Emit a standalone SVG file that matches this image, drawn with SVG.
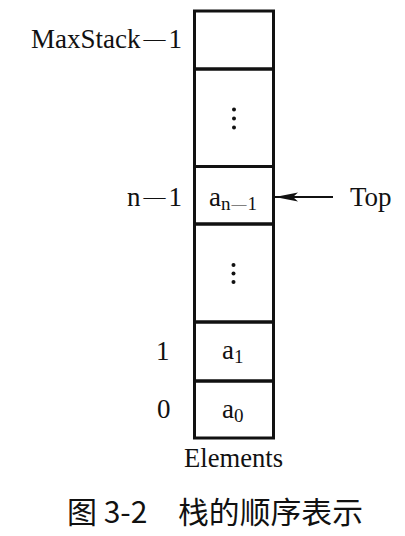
<svg xmlns="http://www.w3.org/2000/svg" width="405" height="536" viewBox="0 0 405 536">
<style>
.cell{fill:none;stroke:#111;stroke-width:3}
.t{font-family:"Liberation Serif","Times New Roman",serif;font-size:27px;fill:#111}
.sub{font-family:"Liberation Serif","Times New Roman",serif;font-size:19px;fill:#111}
.d{font-size:22px}
.sd{font-size:15px}
.cap{font-family:"Noto Sans CJK SC","Noto Sans",sans-serif;font-size:30px;fill:#111}
.dot{fill:#111}
</style>
<defs>
<marker id="ah" markerWidth="24" markerHeight="10" refX="23" refY="5" orient="auto" markerUnits="userSpaceOnUse">
<path d="M0,0.5 L23,5 L0,9.5 L5,5 Z" fill="#111"/>
</marker>
</defs>
<rect width="405" height="536" fill="#fff"/>
<g id="cell-max">
<rect class="cell" x="194.5" y="11" width="79" height="58"/>
<text class="t" x="31" y="48">MaxStack<tspan class="d" dx="3" dy="-2">—</tspan><tspan dx="3" dy="2">1</tspan></text>
</g>
<g id="cell-dots-upper">
<rect class="cell" x="194.5" y="69" width="79" height="97.5"/>
<circle class="dot" cx="234" cy="109.5" r="2"/>
<circle class="dot" cx="234" cy="118.5" r="2"/>
<circle class="dot" cx="234" cy="127.5" r="2"/>
</g>
<g id="cell-top">
<rect class="cell" x="194.5" y="166.5" width="79" height="57.5"/>
<text class="t" x="127" y="206">n<tspan class="d" dx="3" dy="-2">—</tspan><tspan dx="3" dy="2">1</tspan></text>
<text class="t" x="209" y="206">a<tspan class="sub" dy="4">n</tspan><tspan class="sd" dx="1" dy="-1">—</tspan><tspan class="sub" dx="1" dy="1">1</tspan></text>
</g>
<g id="cell-dots-lower">
<rect class="cell" x="194.5" y="224" width="79" height="98"/>
<circle class="dot" cx="233.5" cy="265" r="2"/>
<circle class="dot" cx="233.5" cy="273.5" r="2"/>
<circle class="dot" cx="233.5" cy="282" r="2"/>
</g>
<g id="cell-a1">
<rect class="cell" x="194.5" y="322" width="79" height="59"/>
<text class="t" x="156" y="360">1</text>
<text class="t" x="222" y="359">a<tspan class="sub" dy="4">1</tspan></text>
</g>
<g id="cell-a0">
<rect class="cell" x="194.5" y="381" width="79" height="57"/>
<text class="t" x="157" y="418">0</text>
<text class="t" x="222" y="418">a<tspan class="sub" dy="4">0</tspan></text>
</g>
<g id="label-top">
<text class="t" x="350" y="206">Top</text>
</g>
<g id="label-elements">
<text class="t" x="184" y="467" textLength="99" lengthAdjust="spacingAndGlyphs">Elements</text>
</g>
<g id="connectors">
<line x1="333" y1="197" x2="275" y2="197" stroke="#111" stroke-width="2" marker-end="url(#ah)"/>
</g>
<g id="caption">
<text class="cap" x="67" y="523">图 3-2</text>
<text class="cap" x="178" y="523" textLength="185" lengthAdjust="spacingAndGlyphs">栈的顺序表示</text>
</g>
</svg>
